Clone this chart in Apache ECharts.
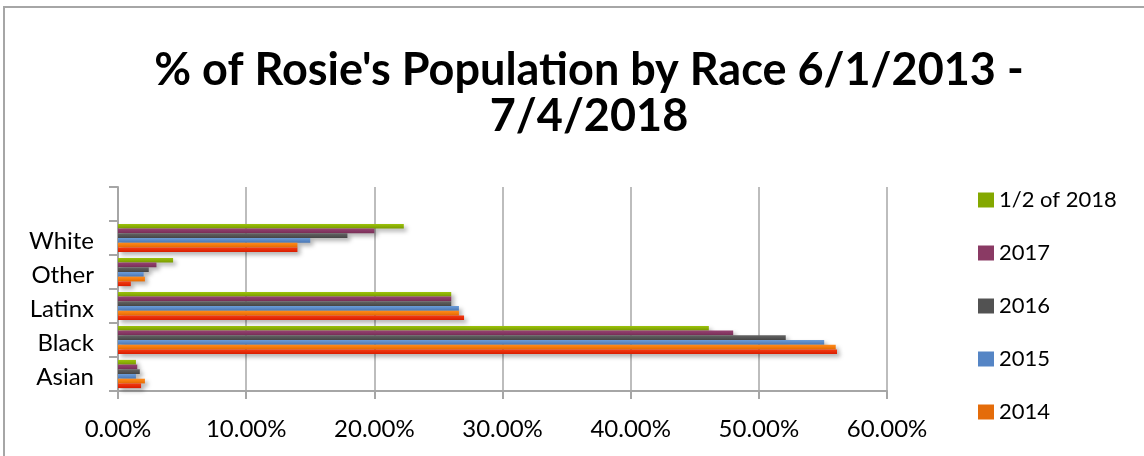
<!DOCTYPE html>
<html>
<head>
<meta charset="utf-8">
<script src="https://cdn.jsdelivr.net/npm/echarts@6/dist/echarts.min.js"></script>
<style>html,body{margin:0;padding:0;background:#fff;}#c{width:1144px;height:456px;}</style>
</head>
<body>
<div id="c"></div>
<script>
var categories = ['Asian', 'Black', 'Latinx', 'Other', 'White', ''];
var seriesNames = ['1/2 of 2018', '2017', '2016', '2015', '2014', '2013'];
var v2018 = [1.4, 46.1, 26.0, 4.3, 22.3, null];
var v2017 = [1.5, 48.0, 26.0, 3.0, 20.0, null];
var v2016 = [1.7, 52.1, 26.0, 2.4, 17.9, null];
var v2015 = [1.4, 55.1, 26.6, 2.0, 15.0, null];
var v2014 = [2.1, 56.0, 26.6, 2.1, 14.0, null];
var v2013 = [1.8, 56.1, 27.0, 1.0, 14.0, null];
var xTicks = [0, 10, 20, 30, 40, 50, 60];

var values = [v2018, v2017, v2016, v2015, v2014, v2013];
var topCols = ['#9dc40c', '#964272', '#646464', '#6c9cd8', '#ff8c1c', '#f53c12'];
var botCols = ['#789a00', '#782e56', '#464646', '#4a78b6', '#e86a00', '#d81c00'];
var legCols = ['#84a800', '#8a3a64', '#525252', '#5585c5', '#e46c0a', '#e32a08'];

var chart = echarts.init(document.getElementById('c'));
var series = seriesNames.map(function (n, i) {
  return {
    name: n,
    type: 'bar',
    data: values[i],
    barGap: '0%',
    barCategoryGap: '17%',
    itemStyle: {
      color: new echarts.graphic.LinearGradient(0, 0, 0, 1, [
        {offset: 0, color: topCols[i]}, {offset: 1, color: botCols[i]}
      ]),
      shadowColor: 'rgba(0,0,0,0.3)',
      shadowBlur: 4,
      shadowOffsetX: 3,
      shadowOffsetY: 3
    }
  };
});

chart.setOption({
  animation: false,
  title: {
    text: "% of Rosie's Population by Race 6/1/2013 -\n7/4/2018",
    left: 584,
    top: 42,
    textAlign: 'center',
    textStyle: {fontFamily: 'Lato', fontWeight: 'bold', fontSize: 45, lineHeight: 46, color: '#000'}
  },
  graphic: [{
    type: 'rect',
    shape: {x: 4, y: 7, width: 1200, height: 500},
    style: {fill: 'none', stroke: '#a6a6a6', lineWidth: 2},
    silent: true
  }],
  legend: {
    orient: 'vertical',
    left: 978,
    top: 189,
    padding: 0,
    itemWidth: 16,
    itemHeight: 15,
    itemGap: 31,
    icon: 'rect',
    data: seriesNames.map(function (n, i) {
      return {name: n, itemStyle: {color: legCols[i], shadowBlur: 0, shadowOffsetX: 0, shadowOffsetY: 0}};
    }),
    textStyle: {fontFamily: 'Lato', fontSize: 22, color: '#000', padding: [8, 0, 0, 0]}
  },
  grid: {left: 118, top: 187, right: 257, bottom: 65, containLabel: false},
  xAxis: {
    type: 'value',
    min: xTicks[0],
    max: xTicks[xTicks.length - 1],
    interval: 10,
    axisLine: {show: true, lineStyle: {color: '#a6a6a6', width: 2}},
    axisTick: {show: true, length: 8, lineStyle: {color: '#a6a6a6', width: 2}},
    splitLine: {show: true, lineStyle: {color: '#bdbdbd', width: 2}},
    axisLabel: {
      fontFamily: 'Lato', fontSize: 24, color: '#000', margin: 26,
      formatter: function (v) { return v.toFixed(2) + '%'; }
    }
  },
  yAxis: {
    type: 'category',
    data: categories,
    axisLine: {show: true, lineStyle: {color: '#a6a6a6', width: 2}},
    axisTick: {show: true, length: 9, alignWithLabel: false, lineStyle: {color: '#a6a6a6', width: 2}},
    axisLabel: {
      fontFamily: 'Lato', fontSize: 24, color: '#000', margin: 24,
      formatter: function (v) { return v ? '{a|' + v + '}' : ''; },
      rich: {a: {fontFamily: 'Lato', fontSize: 24, color: '#000', padding: [6, 0, 0, 0]}}
    },
    splitLine: {show: false}
  },
  series: series
});
</script>
</body>
</html>
